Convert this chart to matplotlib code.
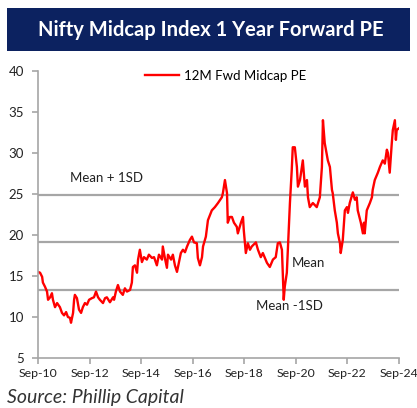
import matplotlib.pyplot as plt
from matplotlib.patches import Rectangle

# years after Sep-2010
t = [0.00, 0.08, 0.16, 0.19, 0.27, 0.35, 0.39, 0.47, 0.54, 0.58, 0.66, 0.74, 0.85, 0.93,
     1.01, 1.09, 1.16, 1.24, 1.28, 1.36, 1.40, 1.43, 1.51, 1.59, 1.67, 1.74, 1.82, 1.90,
     1.98, 2.09, 2.17, 2.25, 2.33, 2.40, 2.52, 2.60, 2.67, 2.79, 2.91, 2.95, 3.02, 3.10,
     3.18, 3.29, 3.37, 3.45, 3.57, 3.64, 3.68, 3.76, 3.84, 3.88, 3.95, 4.03, 4.11, 4.22,
     4.30, 4.42, 4.50, 4.61, 4.69, 4.81, 4.84, 4.92, 5.00, 5.04, 5.16, 5.23, 5.31, 5.39,
     5.43, 5.54, 5.62, 5.70, 5.78, 5.89, 5.97, 6.05, 6.16, 6.20, 6.28, 6.36, 6.40, 6.51,
     6.59, 6.74, 6.86, 6.98, 7.13, 7.17, 7.25, 7.33, 7.36, 7.44, 7.52, 7.60, 7.71, 7.75,
     7.87, 7.95, 7.98, 8.06, 8.14, 8.22, 8.29, 8.45, 8.53, 8.64, 8.72, 8.88, 8.99, 9.11,
     9.22, 9.30, 9.38, 9.46, 9.50, 9.53, 9.57, 9.65, 9.69, 9.77, 9.84, 9.88, 9.96, 10.04,
     10.08, 10.16, 10.27, 10.35, 10.43, 10.47, 10.54, 10.66, 10.81, 10.93, 11.01, 11.05,
     11.12, 11.24, 11.32, 11.40, 11.43, 11.51, 11.59, 11.63, 11.71, 11.74, 11.82, 11.90,
     11.98, 12.02, 12.09, 12.21, 12.29, 12.36, 12.40, 12.52, 12.60, 12.64, 12.67, 12.75,
     12.87, 12.95, 12.98, 13.06, 13.18, 13.26, 13.37, 13.45, 13.53, 13.57, 13.64, 13.72,
     13.76, 13.84, 13.88, 13.91, 13.99]
pe = [15.5, 15.4, 14.9, 14.2, 13.7, 13.1, 12.1, 12.4, 12.9, 12.1, 11.2, 11.7, 11.2, 10.5,
      10.2, 10.6, 10.0, 9.9, 9.3, 10.5, 12.1, 12.7, 12.3, 10.9, 10.5, 11.2, 11.7, 11.5,
      12.1, 12.3, 12.4, 13.1, 12.4, 12.1, 11.7, 12.3, 12.4, 11.8, 12.4, 12.1, 13.1, 13.9,
      13.1, 12.7, 13.5, 13.1, 13.3, 14.2, 16.1, 16.3, 15.4, 17.0, 18.2, 16.7, 17.3, 17.0,
      17.6, 17.2, 17.3, 16.3, 17.6, 17.0, 18.6, 17.2, 16.0, 17.6, 17.0, 17.6, 16.3, 15.5,
      16.1, 17.8, 18.2, 17.9, 18.6, 19.4, 19.8, 19.1, 19.0, 17.2, 16.3, 17.3, 18.6, 19.8,
      21.8, 23.0, 23.4, 23.9, 24.6, 25.1, 26.7, 25.1, 21.5, 22.2, 22.2, 21.5, 21.0, 20.2,
      21.5, 22.2, 20.6, 17.8, 19.0, 18.2, 18.6, 19.1, 18.2, 17.3, 17.8, 16.6, 16.1, 17.0,
      17.3, 19.0, 19.1, 18.2, 14.9, 12.1, 13.7, 15.4, 18.2, 23.9, 27.9, 30.7, 30.7, 28.3,
      25.9, 26.7, 29.1, 25.9, 26.7, 24.6, 23.4, 23.9, 23.4, 24.6, 28.3, 34.0,
      31.2, 29.1, 28.3, 25.5, 25.1, 23.0, 21.5, 20.2, 19.0, 17.8, 19.4, 23.0,
      23.4, 22.7, 23.9, 25.2, 24.3, 24.6, 23.0, 21.5, 20.2, 21.5, 20.2, 23.0,
      23.9, 24.6, 25.5, 26.7, 27.6, 28.3, 29.1, 28.7, 30.4, 30.0, 27.6, 31.2,
      32.8, 34.0, 31.6, 32.8, 33.0]

mean_plus = 24.9
mean = 19.15
mean_minus = 13.3

xtick_labels = ['Sep-10', 'Sep-12', 'Sep-14', 'Sep-16', 'Sep-18', 'Sep-20', 'Sep-22', 'Sep-24']
xtick_pos = [0, 2, 4, 6, 8, 10, 12, 14]

plt.rcParams['font.family'] = ['Lato', 'DejaVu Sans']

fig = plt.figure(figsize=(4.17, 4.08), dpi=100)
fig.patch.set_facecolor('white')

# title banner
fig.patches.append(Rectangle((7 / 417, 1 - 51 / 408), 403 / 417, 43 / 408,
                             transform=fig.transFigure, facecolor='#0c2260',
                             edgecolor='none'))
fig.text(0.505, 1 - 30 / 408, 'Nifty Midcap Index 1 Year Forward PE', color='white',
         fontsize=14.5, fontweight='bold', ha='center', va='center')

ax = fig.add_axes([38 / 417, 1 - 358 / 408, 361 / 417, 287 / 408])
ax.axhline(mean_plus, color='#a6a6a6', lw=1.6, zorder=1)
ax.axhline(mean, color='#a6a6a6', lw=1.6, zorder=1)
ax.axhline(mean_minus, color='#a6a6a6', lw=1.6, zorder=1)
ax.plot(t, pe, color='#ff0000', lw=1.7, label='12M Fwd Midcap PE', zorder=2)

ax.text(2.64, 26.9, 'Mean + 1SD', fontsize=9.5, ha='center', va='center', color='#222222')
ax.text(9.84, 16.6, 'Mean', fontsize=9.5, ha='left', va='center', color='#222222')
ax.text(9.77, 11.3, 'Mean -1SD', fontsize=9.5, ha='center', va='center', color='#222222')

ax.set_xlim(0, 14)
ax.set_ylim(5, 40)
ax.set_yticks(range(5, 45, 5))
ax.set_xticks(xtick_pos)
ax.set_xticklabels(xtick_labels)
for s in ['top', 'right']:
    ax.spines[s].set_visible(False)
for s in ['left', 'bottom']:
    ax.spines[s].set_color('#a6a6a6')
    ax.spines[s].set_linewidth(1.2)
ax.tick_params(axis='both', colors='#a6a6a6', labelcolor='#222222', labelsize=9.5,
               length=4, width=1.2)
ax.tick_params(axis='y', pad=6)
ax.tick_params(axis='x', pad=3, labelsize=8.8)

leg = ax.legend(loc='upper center', bbox_to_anchor=(0.52, 1.045), frameon=False,
                fontsize=9.5, handlelength=2.6, handletextpad=0.4)

fig.text(7 / 417, 1 - 397 / 408, 'Source: Phillip Capital', fontsize=14, style='italic',
         color='#333333', ha='left', va='center')

plt.savefig('out.png', dpi=100)
